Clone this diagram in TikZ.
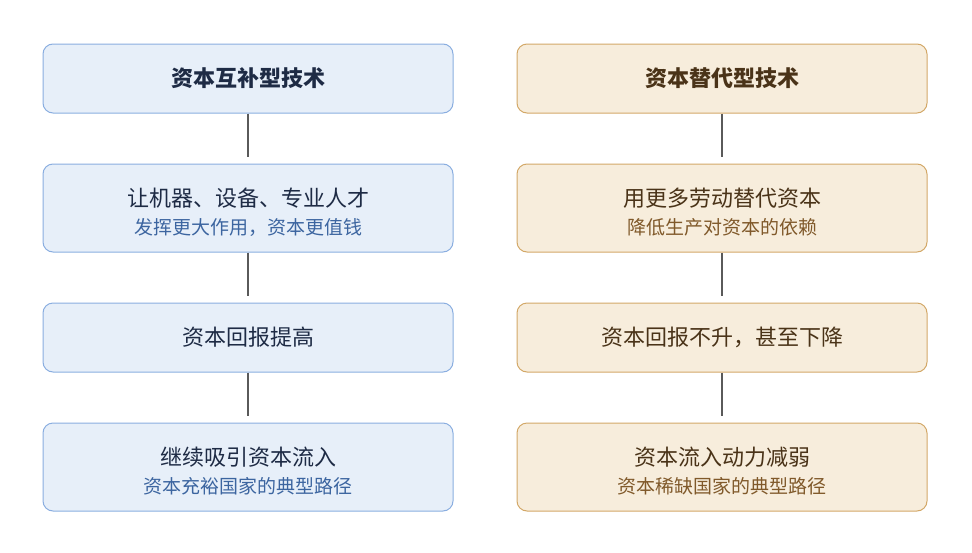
\documentclass[tikz,border=0pt]{standalone}
\usepackage{fontspec}
\setmainfont{Noto Sans CJK SC}
\definecolor{bluefill}{HTML}{E7EFF9}
\definecolor{blueline}{HTML}{8AAEE0}
\definecolor{bluetitle}{HTML}{1E2B45}
\definecolor{bluesub}{HTML}{3C65A0}
\definecolor{tanfill}{HTML}{F7EDDC}
\definecolor{tanline}{HTML}{D3A868}
\definecolor{tantitle}{HTML}{4A3318}
\definecolor{tansub}{HTML}{80592A}
\definecolor{linkgray}{HTML}{5A5A5A}
\newcommand{\titlesize}{\fontsize{22}{28}\selectfont}
\newcommand{\subsize}{\fontsize{19}{28}\selectfont}
\tikzset{
  leftbox/.style={draw=blueline, fill=bluefill, text=bluetitle, rounded corners=10pt,
    minimum width=410pt, inner sep=0pt, align=center, line width=1pt, font=\subsize},
  rightbox/.style={draw=tanline, fill=tanfill, text=tantitle, rounded corners=10pt,
    minimum width=410pt, inner sep=0pt, align=center, line width=1pt, font=\subsize},
  onerow/.style={minimum height=69pt},
  tworow/.style={minimum height=88pt, text height=55pt, text depth=2.5pt},
  link/.style={draw=linkgray, line width=2pt, shorten >=7pt}
}

\begin{document}
\begin{tikzpicture}[x=1pt, y=-1pt]
\useasboundingbox (0,0) rectangle (972,552);

\node[leftbox, onerow] (l1) at (248,78.5) {\titlesize\bfseries 资本互补型技术};
\node[leftbox, tworow] (l2) at (248,208) {\titlesize 让机器、设备、专业人才\\[0pt] \subsize\color{bluesub} 发挥更大作用，资本更值钱};
\node[leftbox, onerow] (l3) at (248,337.5) {\titlesize 资本回报提高};
\node[leftbox, tworow] (l4) at (248,467) {\titlesize 继续吸引资本流入\\[0pt] \subsize\color{bluesub} 资本充裕国家的典型路径};

\node[rightbox, onerow] (r1) at (722,78.5) {\titlesize\bfseries 资本替代型技术};
\node[rightbox, tworow] (r2) at (722,208) {\titlesize 用更多劳动替代资本\\[0pt] \subsize\color{tansub} 降低生产对资本的依赖};
\node[rightbox, onerow] (r3) at (722,337.5) {\titlesize 资本回报不升，甚至下降};
\node[rightbox, tworow] (r4) at (722,467) {\titlesize 资本流入动力减弱\\[0pt] \subsize\color{tansub} 资本稀缺国家的典型路径};

\foreach \a/\b in {l1/l2, l2/l3, l3/l4, r1/r2, r2/r3, r3/r4}
  \draw[link] (\a) -- (\b);
\end{tikzpicture}
\end{document}
